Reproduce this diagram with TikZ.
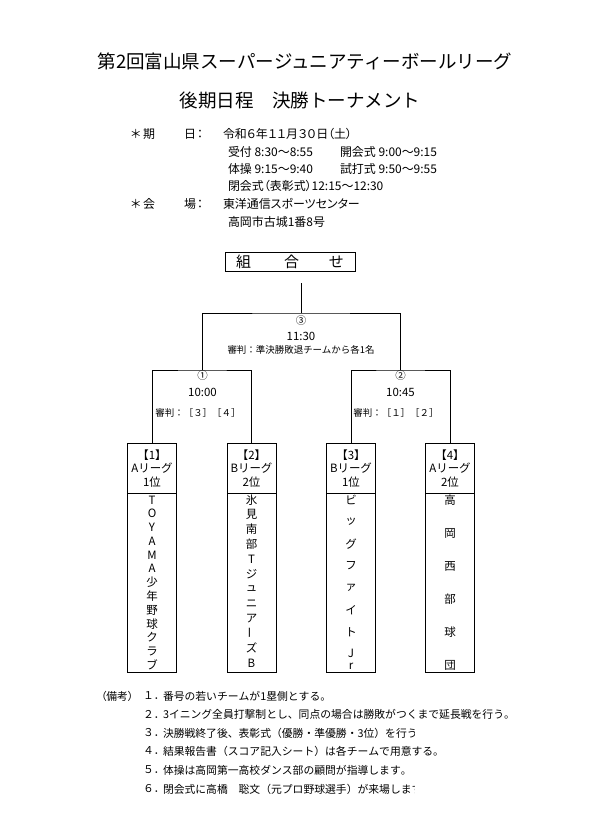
\documentclass[tikz,border=0pt]{standalone}
\usepackage{fontspec}
\setmainfont{Noto Sans CJK JP}
\newfontfamily\jpp[RawFeature=+palt]{Noto Sans CJK JP}
\newfontfamily\jpn[Kerning=Off]{Noto Sans CJK JP}
\begin{document}
\begin{tikzpicture}[x=1bp,y=-1bp,
  every node/.style={inner sep=0pt, outer sep=0pt},
  ln/.style={line width=0.8bp, black},
  title/.style={font=\fontsize{18.6}{20}\selectfont},
  sched/.style={anchor=west, font=\jpp\fontsize{12}{14}\selectfont},
  big/.style={font=\fontsize{11.5}{13}\selectfont},
  ref/.style={font=\fontsize{9.5}{11}\selectfont},
  circ/.style={font=\fontsize{10.5}{12}\selectfont},
  hdr/.style={font=\fontsize{11.5}{13}\selectfont},
  nm/.style={font=\fontsize{11.5}{13}\selectfont},
  note/.style={anchor=west, font=\jpn\fontsize{10.85}{12}\selectfont},
  team/.style={draw, ln, minimum width=49bp, minimum height=229bp, anchor=north}]
\useasboundingbox (0,0) rectangle (591,830);
\fill[white] (0,0) rectangle (591,830);

% titles
\node[title] (t1) at (305,61) {第2回富山県スーパージュニアティーボールリーグ};
\node[title] (t2) at (300,100) {後期日程　決勝トーナメント};

% schedule
\node[sched] (s1a) at (131,134) {＊};
\node[sched] (s1b) at (143,134) {期};
\node[sched] (s1c) at (184,134) {日};
\node[sched] (s1d) at (197,134) {：};
\node[sched] (s1e) at (223,134) {令和６年１１月３０日（土）};
\node[sched] (s2a) at (228,152) {受付 8:30～8:55};
\node[sched] (s2b) at (340,152) {開会式 9:00～9:15};
\node[sched] (s3a) at (228,169) {体操 9:15～9:40};
\node[sched] (s3b) at (340,169) {試打式 9:50～9:55};
\node[sched] (s4a) at (228,186) {閉会式（表彰式）12:15～12:30};
\node[sched] (s5a) at (131,204) {＊};
\node[sched] (s5b) at (143,204) {会};
\node[sched] (s5c) at (184,204) {場};
\node[sched] (s5d) at (197,204) {：};
\node[sched] (s5e) at (223,204) {東洋通信スポーツセンター};
\node[sched] (s6a) at (228,222) {高岡市古城1番8号};

% kumiawase box
\node[draw, ln, minimum width=130bp, minimum height=19bp, font=\fontsize{15}{16}\selectfont] (kb) at (290,261.5) {組\hspace{33bp}合\hspace{30bp}せ};

% team boxes
\node[team] (b1) at (152,443) {};
\node[team] (b2) at (251.5,443) {};
\node[team] (b3) at (351,443) {};
\node[team] (b4) at (450,443) {};
\foreach \b in {b1,b2,b3,b4}
  \draw[ln] ([yshift=-50bp]\b.north west) -- ([yshift=-50bp]\b.north east);

% bracket coordinates
\coordinate (m1) at (202.5,370);
\coordinate (m2) at (400.5,370);
\coordinate (f) at (301,313);
\coordinate (k) at (301,283);
\draw[ln] (b1.north) |- (m1) -| (b2.north);
\draw[ln] (b3.north) |- (m2) -| (b4.north);
\draw[ln] (m1) |- (f) -| (m2);
\draw[ln] (k) -- (f);

% final
\node[circ] (c3) at (301,321) {③};
\node[big] (c3t) at (301,336) {11:30};
\node[ref] (c3r) at (301,350) {審判：準決勝敗退チームから各1名};
% semi 1
\node[circ] (c1) at (202.5,376) {①};
\node[big] (c1t) at (202.5,392) {10:00};
\node[ref] (c1r) at (198,413) {審判：［３］［４］};
% semi 2
\node[circ] (c2) at (400.5,376) {②};
\node[big] (c2t) at (400.5,392) {10:45};
\node[ref] (c2r) at (396,413) {審判：［１］［２］};

% headers
\node[hdr] (h1a) at (152,455) {【1】};
\node[hdr] (h1b) at (152,468.5) {Aリーグ};
\node[hdr] (h1c) at (152,482) {1位};
\node[hdr] (h2a) at (251.5,455) {【2】};
\node[hdr] (h2b) at (251.5,468.5) {Bリーグ};
\node[hdr] (h2c) at (251.5,482) {2位};
\node[hdr] (h3a) at (351,455) {【3】};
\node[hdr] (h3b) at (351,468.5) {Bリーグ};
\node[hdr] (h3c) at (351,482) {1位};
\node[hdr] (h4a) at (450,455) {【4】};
\node[hdr] (h4b) at (450,468.5) {Aリーグ};
\node[hdr] (h4c) at (450,482) {2位};

% team names
\foreach \c [count=\i] in {T,O,Y,A,M,A,少,年,野,球,ク,ラ,ブ}
  \node[nm] (n1-\i) at (152,{500+(\i-1)*13.75}) {\c};
\foreach \c [count=\i] in {氷,見,南,部,T,ジ,ュ,ニ,ア}
  \node[nm] (n2-\i) at (251.5,{500+(\i-1)*14.8}) {\c};
\node[nm, rotate=90] (n2-10) at (251.5,633.2) {ー};
\node[nm] (n2-11) at (251.5,648) {ズ};
\node[nm] (n2-12) at (251.5,662.8) {B};
\foreach \c [count=\i] in {ビ,ッ,グ,フ,ァ,イ,ト}
  \node[nm] (n3-\i) at (351,{500+(\i-1)*22}) {\c};
\node[nm] (n3-8) at (351,653) {J};
\node[nm] (n3-9) at (351,666) {r};
\foreach \c [count=\i] in {高,岡,西,部,球,団}
  \node[nm] (n4-\i) at (450,{500+(\i-1)*33}) {\c};

% notes
\node[note, font=\jpp\fontsize{10.8}{12}\selectfont] (r0) at (101,696) {（備考）};
\node[note] (r1n) at (143,696) {１．};
\node[note] (r1) at (163,696) {番号の若いチームが1塁側とする。};
\node[note] (r2n) at (143,714) {２．};
\node[note] (r2) at (163,714) {3イニング全員打撃制とし、同点の場合は勝敗がつくまで延長戦を行う。};
\node[note] (r4n) at (143,751) {４．};
\node[note] (r4) at (163,751) {結果報告書（スコア記入シート）は各チームで用意する。};
\node[note] (r5n) at (143,770) {５．};
\node[note] (r5) at (163,770) {体操は高岡第一高校ダンス部の顧問が指導します。};
\node[note] (r3n) at (143,733) {３．};
\node[note] (r6n) at (143,789) {６．};
\begin{scope}
  \clip (150,720) rectangle (414.5,800);
  \node[note] (r3) at (163,733) {決勝戦終了後、表彰式（優勝・準優勝・3位）を行う。};
  \node[note] (r6) at (163,789) {閉会式に高橋　聡文（元プロ野球選手）が来場します。};
\end{scope}
\end{tikzpicture}
\end{document}
